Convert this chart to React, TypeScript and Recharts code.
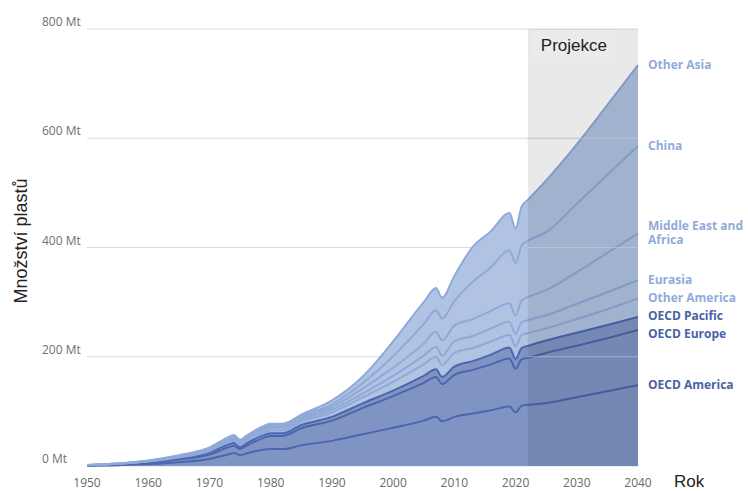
import {
  AreaChart,
  Area,
  XAxis,
  YAxis,
  CartesianGrid,
  ReferenceArea,
  ReferenceLine,
} from "recharts";

const years = [
  1950, 1955, 1960, 1965, 1970, 1973, 1974, 1975, 1976, 1979, 1980, 1982, 1985,
  1990, 1995, 2000, 2005, 2007, 2008, 2010, 2013, 2016, 2019, 2020, 2021, 2022,
  2025, 2030, 2035, 2040,
];

// Mt per region, stacked bottom to top
const oecdAmerica = [0.6, 1.5, 3.5, 7, 13, 21, 24, 20, 23, 30, 31, 31, 38, 46, 58, 70, 83, 90, 82, 90, 96, 102, 109, 98, 110, 112, 115, 126, 137, 148];
const oecdEurope = [0.4, 1.1, 2.5, 5, 8, 13, 13, 11, 14, 22, 24, 24, 31, 37, 48, 58, 69, 73, 68, 77, 80, 84, 88, 80, 85, 86, 92, 94, 97, 101];
const oecdPacific = [0.2, 0.5, 1, 2, 4, 5, 5, 4, 4.5, 5, 5, 5, 6, 7, 8.5, 10, 13, 14, 13, 15, 16, 18, 20, 18, 21, 22, 23, 24, 24, 24];
const otherAmerica = [0.2, 0.4, 1, 1.5, 2.5, 4, 4, 3.5, 4, 5, 5, 5, 6, 8, 11, 16, 21, 23, 22, 25, 24, 24, 23, 23, 24, 23, 22, 25, 29, 34];
const eurasia = [0.2, 0.4, 0.8, 1.5, 2.5, 3, 3, 3, 3, 4, 4, 4, 4, 5, 7, 11, 16, 18, 17, 21, 22, 24, 24, 23, 23, 24, 24, 28, 31, 33];
const middleEastAfrica = [0.2, 0.4, 0.5, 1, 1.5, 2.5, 3, 2.5, 2.5, 3, 3, 3, 3, 5, 9, 15, 22, 28, 28, 29, 31, 32, 34, 33, 40, 42, 46, 58, 72, 86];
const china = [0.1, 0.2, 0.4, 0.8, 1, 1.5, 1.8, 1.7, 1.8, 2.5, 3, 3, 3, 5, 10, 21, 36, 39, 40, 45, 68, 80, 97, 96, 101, 103, 106, 125, 143, 160];
const otherAsia = [0.1, 0.3, 0.4, 1, 1.5, 2.5, 3, 2.5, 2.5, 2.5, 2.5, 2.5, 3, 7, 12, 27, 40, 41, 38, 46, 64, 66, 68, 64, 71, 75, 95, 109, 128, 148];

const yTicks = [0, 200, 400, 600, 800];
const xTicks = [1950, 1960, 1970, 1980, 1990, 2000, 2010, 2020, 2030, 2040];
const projectionStart = 2022;

const DARK = "#8094c4";
const LIGHT = "#b1c3e3";
const DARK_LINE = "#4b66ae";
const LIGHT_LINE = "#8fa9d8";
const DARK_TEXT = "#4a62a6";
const LIGHT_TEXT = "#91abd9";

const series = [
  { key: "oecdAmerica", label: ["OECD America"], values: oecdAmerica, oecd: true, dy: 0 },
  { key: "oecdEurope", label: ["OECD Europe"], values: oecdEurope, oecd: true, dy: 4 },
  { key: "oecdPacific", label: ["OECD Pacific"], values: oecdPacific, oecd: true, dy: -1 },
  { key: "otherAmerica", label: ["Other America"], values: otherAmerica, oecd: false, dy: 0 },
  { key: "eurasia", label: ["Eurasia"], values: eurasia, oecd: false, dy: 0 },
  { key: "mea", label: ["Middle East and", "Africa"], values: middleEastAfrica, oecd: false, dy: -7 },
  { key: "china", label: ["China"], values: china, oecd: false, dy: 0 },
  { key: "otherAsia", label: ["Other Asia"], values: otherAsia, oecd: false, dy: 0 },
];

const data = years.map((year, i) => {
  const row: Record<string, number> = { year };
  series.forEach((s) => {
    row[s.key] = s.values[i];
    row[s.key + "_line"] = s.values[i];
  });
  return row;
});

const font = "'Open Sans', sans-serif";
const arial = "Arial, 'Liberation Sans', sans-serif";

function endLabel(lines: string[], color: string, dy: number) {
  return (props: any) => {
    if (props.index !== years.length - 1) return null;
    const x = Number(props.x) + 10;
    const y = Number(props.y) + 4 + dy;
    return (
      <g>
        {lines.map((l, i) => (
          <text key={i} x={x} y={y + i * 14} fill={color} fontSize={12} fontWeight={700} fontFamily={font}>
            {l}
          </text>
        ))}
      </g>
    );
  };
}

function YTick(props: any) {
  return (
    <text x={42} y={props.y - 3} fill="#707070" fontSize={12} fontFamily={font}>
      {`${props.payload.value} Mt`}
    </text>
  );
}

function ProjectionLabel(props: any) {
  const vb = props.viewBox || { x: 0, y: 0 };
  return (
    <g>
      <rect x={vb.x + 4} y={vb.y + 1} width={84} height={28} fill="#fff" fillOpacity={0.12} />
      <text x={vb.x + 13} y={vb.y + 22} fill="#222" fontSize={17} fontFamily={arial}>
        Projekce
      </text>
    </g>
  );
}

export default function App() {
  return (
    <div style={{ position: "fixed", left: 0, top: 0, width: 748, height: 491, background: "#fff" }}>
      <AreaChart
        width={748}
        height={491}
        data={data}
        margin={{ top: 29, right: 110, left: 0, bottom: 0 }}
      >
        <CartesianGrid vertical={false} stroke="#d5dce8" />
        <XAxis
          dataKey="year"
          type="number"
          domain={[1950, 2040]}
          ticks={xTicks}
          height={25}
          tickLine={false}
          tickSize={0}
          tickMargin={12}
          axisLine={false}
          tick={{ fill: "#6a6a6a", fontSize: 12, fontFamily: font }}
          label={{
            content: () => (
              <text x={674} y={487} fill="#222" fontSize={17} fontFamily={arial}>
                Rok
              </text>
            ),
          }}
        />
        <YAxis
          domain={[0, 800]}
          ticks={yTicks}
          width={87}
          tickLine={false}
          axisLine={false}
          tick={<YTick />}
          label={{
            content: () => (
              <text
                x={27}
                y={241}
                transform="rotate(-90 27 241)"
                textAnchor="middle"
                fill="#222"
                fontSize={18}
                fontFamily={arial}
              >
                Množství plastů
              </text>
            ),
          }}
        />
        {series.map((s) => (
          <Area
            key={s.key}
            type="monotone"
            dataKey={s.key}
            stackId="fill"
            stroke="none"
            fill={s.oecd ? DARK : LIGHT}
            fillOpacity={1}
            dot={false}
            activeDot={false}
            isAnimationActive={false}
          />
        ))}
        {series.map((s) => (
          <Area
            key={s.key + "_line"}
            type="monotone"
            dataKey={s.key + "_line"}
            stackId="line"
            stroke={s.oecd ? DARK_LINE : LIGHT_LINE}
            strokeWidth={2}
            fill="none"
            dot={false}
            activeDot={false}
            isAnimationActive={false}
            label={endLabel(s.label, s.oecd ? DARK_TEXT : LIGHT_TEXT, s.dy)}
          />
        ))}
        <ReferenceArea
          x1={projectionStart}
          x2={2040}
          y1={0}
          y2={800}
          fill="#000"
          fillOpacity={0.085}
          stroke="none"
          label={<ProjectionLabel />}
        />
        {[200, 400, 600].map((v) => (
          <ReferenceLine
            key={v}
            segment={[
              { x: projectionStart, y: v },
              { x: 2040, y: v },
            ]}
            stroke="#c4cddd"
            strokeOpacity={0.6}
          />
        ))}
      </AreaChart>
    </div>
  );
}
